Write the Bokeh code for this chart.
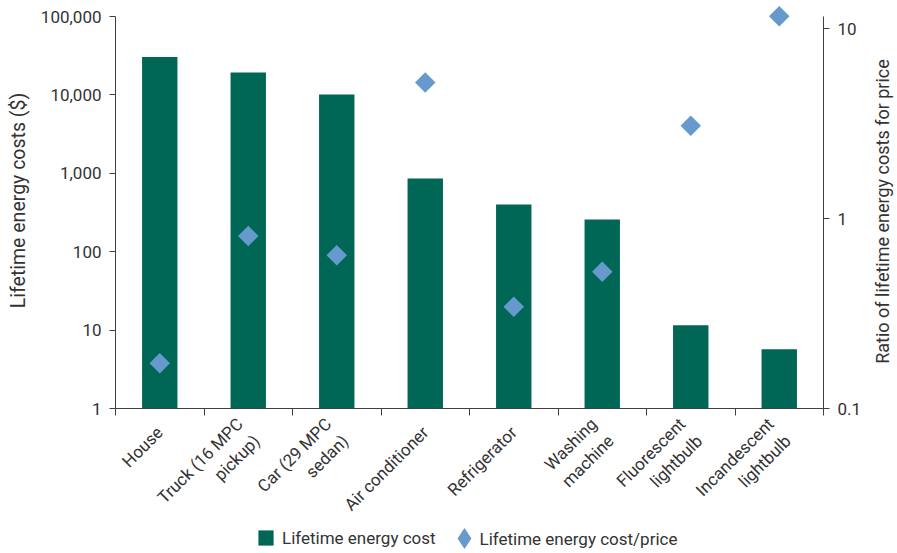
import math
from bokeh.plotting import figure
from bokeh.models import (Range1d, LogScale, LogAxis, FixedTicker, Legend, LegendItem, Label)
from bokeh.embed import file_html
from bokeh.resources import INLINE

categories = ["House", "Truck (16 MPC\npickup)", "Car (29 MPC\nsedan)", "Air conditioner",
              "Refrigerator", "Washing\nmachine", "Fluorescent\nlightbulb", "Incandescent\nlightbulb"]
energy_cost = [30500, 19300, 10100, 860, 400, 257, 11.5, 5.7]
cost_price_ratio = [0.173, 0.81, 0.64, 5.2, 0.343, 0.524, 3.08, 11.6]
left_ticks = [1, 10, 100, 1000, 10000, 100000]
left_labels = ["1", "10", "100", "1,000", "10,000", "100,000"]
right_ticks = [0.1, 1, 10]
right_labels = ["0.1", "1", "10"]
left_title = "Lifetime energy costs ($)"
right_title = "Ratio of lifetime energy costs for price"
legend_labels = ["Lifetime energy cost", "Lifetime energy cost/price"]

FONT = "Roboto"
TXT = "#333333"
LINE = "#404040"
BAR = "#006756"
DIA = "#6699cc"

# page geometry (pixels) of the plotting area
W, H = 897, 553
PX_L, PX_R, PX_T, PX_B = 115, 823, 16, 408
n = len(categories)
cat_px = (PX_R - PX_L) / n
dec_l = (PX_B - PX_T) / 5.0        # px per decade, left axis
dec_r = 190.0                       # px per decade, right axis

xs = [i + 0.5 for i in range(n)]

x_range = Range1d(-PX_L / cat_px, n + (W - PX_R) / cat_px)
y_range = Range1d(10 ** (-(H - PX_B) / dec_l), 10 ** (5 + PX_T / dec_l))
r_range = Range1d(10 ** (-1 - (H - PX_B) / dec_r), 10 ** (-1 + PX_B / dec_r))

p = figure(width=W, height=H, output_backend="svg", toolbar_location=None,
           x_range=x_range, y_range=y_range, y_axis_type="log", min_border=0)
p.title.visible = False
p.outline_line_color = None
p.xgrid.visible = False
p.ygrid.visible = False
p.extra_y_ranges = {"ratio": r_range}
p.extra_y_scales = {"ratio": LogScale()}

bars = p.vbar(x=xs, top=energy_cost, bottom=1, width=0.4, fill_color=BAR, line_color=None)
dia = p.scatter(x=xs, y=cost_price_ratio, y_range_name="ratio", marker="square",
                angle=math.pi / 4, size=14.5, fill_color=DIA, line_color=None)
# legend key only (no visible point)
dia_key = p.scatter(x=[float("nan")], y=[float("nan")], marker="diamond",
                    fill_color=DIA, line_color=None)

# x axis
xa = p.xaxis[0]
xa.fixed_location = 1
xa.bounds = (0, n)
xa.ticker = FixedTicker(ticks=xs, minor_ticks=list(range(n + 1)))
xa.major_label_overrides = {x: c for x, c in zip(xs, categories)}
xa.major_label_orientation = math.pi / 4
xa.major_tick_line_color = None
xa.major_tick_in = 0
xa.major_tick_out = 0
xa.minor_tick_in = 0
xa.minor_tick_out = 7
xa.minor_tick_line_color = LINE
xa.axis_line_color = LINE
xa.major_label_text_font = FONT
xa.major_label_text_font_size = "17px"
xa.major_label_text_color = TXT
xa.major_label_standoff = 14

# left axis
ya = p.yaxis[0]
ya.fixed_location = 0
ya.bounds = (1, 100000)
ya.ticker = FixedTicker(ticks=left_ticks, minor_ticks=[])
ya.major_label_overrides = {t: l for t, l in zip(left_ticks, left_labels)}

# right axis
ra = LogAxis(y_range_name="ratio", ticker=FixedTicker(ticks=right_ticks, minor_ticks=[]))
ra.fixed_location = n
ra.bounds = (0.1, 10 ** (1 + (28 - PX_T) / dec_r))
ra.major_label_overrides = {t: l for t, l in zip(right_ticks, right_labels)}
p.add_layout(ra, "right")

for ax in [ya, ra]:
    ax.axis_line_color = LINE
    ax.major_tick_line_color = LINE
    ax.major_tick_in = 0
    ax.major_tick_out = 6
    ax.minor_tick_line_color = None
    ax.major_label_text_font = FONT
    ax.major_label_text_font_size = "17px"
    ax.major_label_text_color = TXT
    ax.major_label_standoff = 8

# axis titles (screen units from the bottom-left of the plotting frame)
for txt, cx, cy, fs in [(left_title, 18, 200, "19.5px"), (right_title, 882, 211, "18px")]:
    p.add_layout(Label(x=cx, y=H - cy, x_units="screen", y_units="screen", angle=math.pi / 2,
                       text=txt, text_font=FONT, text_font_size=fs, text_color=TXT,
                       text_align="center", text_baseline="middle"))

leg_a = Legend(items=[LegendItem(label=legend_labels[0], renderers=[bars])],
               location=(256, H - 547.5),
               label_text_font=FONT, label_text_font_size="17px", label_text_color=TXT,
               border_line_color=None, background_fill_alpha=0,
               glyph_width=19, glyph_height=19, label_height=19,
               padding=0, margin=0, label_standoff=7)
leg_b = Legend(items=[LegendItem(label=" ", renderers=[dia_key])],
               location=(437.5, H - 564),
               label_text_font=FONT, label_text_font_size="17px", label_text_color=TXT,
               border_line_color=None, background_fill_alpha=0,
               glyph_width=52, glyph_height=52, label_height=52,
               padding=0, margin=0, label_standoff=0)
p.add_layout(leg_a, "center")
p.add_layout(leg_b, "center")
p.add_layout(Label(x=479, y=H - 538, x_units="screen", y_units="screen",
                   text=legend_labels[1], text_font=FONT, text_font_size="17px",
                   text_color=TXT, text_align="left", text_baseline="middle"))

open("out.html", "w").write(file_html(p, INLINE))
